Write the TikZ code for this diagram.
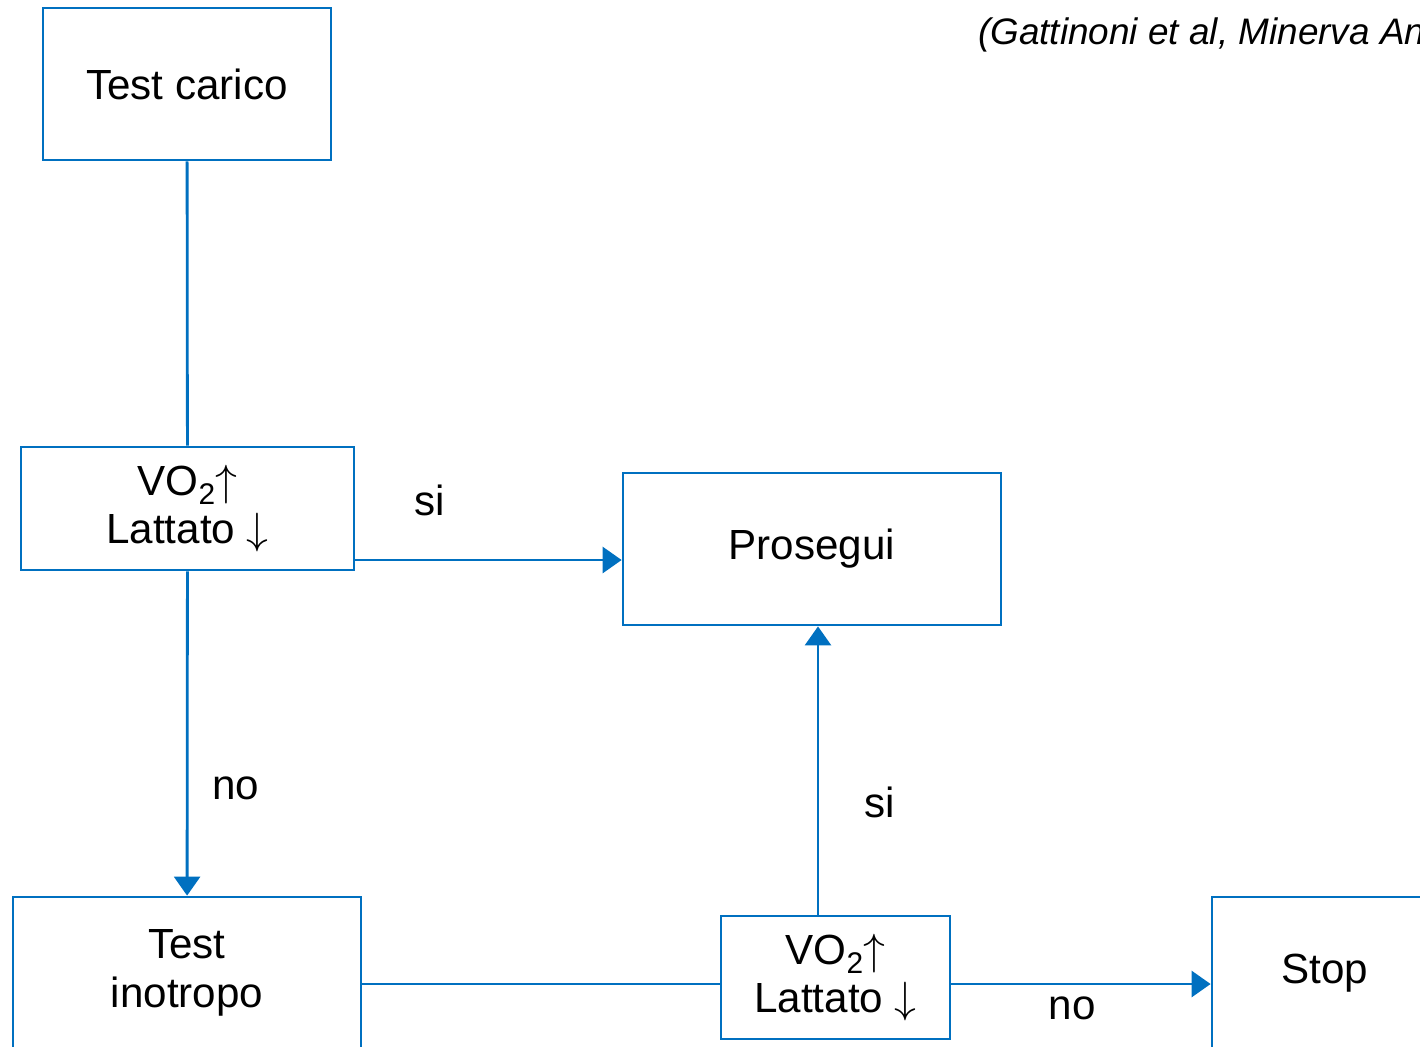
\documentclass[tikz,border=0pt]{standalone}
\usepackage{fontspec}
\setmainfont{Liberation Sans}
\usetikzlibrary{arrows.meta}
\definecolor{flowblue}{RGB}{0,112,192}
\newcommand{\vosub}{VO\raisebox{-0.22em}{\fontsize{17}{17}\selectfont 2}$\uparrow$}

\begin{document}
\begin{tikzpicture}[x=0.02cm,y=-0.02cm,
    box/.style={draw=flowblue,line width=1.6pt,inner sep=0pt,align=center,
      font=\fontsize{24}{27.5}\selectfont},
    lbl/.style={anchor=base,font=\fontsize{24}{27.5}\selectfont},
    >={Triangle[length=0.38cm,width=0.52cm]}]
  \clip (0,0) rectangle (1420,1046);
  \node (cite) [anchor=west,font=\itshape\fontsize{21}{25}\selectfont] at (972,35) {(Gattinoni et al, Minerva Anestesiologica)};
  \node (tc) [box,minimum width=5.76cm,minimum height=3.04cm] at (187,84) {Test carico};
  \node (vo1) [box,minimum width=6.66cm,minimum height=2.46cm] at (187.5,508.5) {\vosub\\Lattato $\downarrow$};
  \node (pr) [box,minimum width=7.56cm,minimum height=3.04cm] at (812,549) {Prosegui};
  \node (ti) [box,minimum width=6.96cm,minimum height=3.04cm] at (187,973) {Test\\inotropo};
  \node (vo2) [box,minimum width=4.58cm,minimum height=2.46cm] at (835.5,977.5) {\vosub\\Lattato $\downarrow$};
  \node (st) [box,minimum width=4.52cm,minimum height=3.04cm] at (1325,973) {Stop};
  \node (si1) [lbl] at (430,515) {si};
  \node (no1) [lbl] at (236,799) {no};
  \node (si2) [lbl] at (880,817) {si};
  \node (no2) [lbl] at (1072,1019) {no};
  \begin{scope}[draw=flowblue,line width=1.6pt]
    \draw (tc) -- (vo1);
    \draw [->] (vo1.east |- 0,560) -- (pr.west |- 0,560);
    \draw [->] (vo1) -- (ti);
    \draw (ti.east |- 0,984) -- (vo2.west |- 0,984);
    \draw [->] (vo2.north -| 818,0) -- (pr.south -| 818,0);
    \draw [->] (vo2.east |- 0,984) -- (st.west |- 0,984);
  \end{scope}
\end{tikzpicture}
\end{document}
